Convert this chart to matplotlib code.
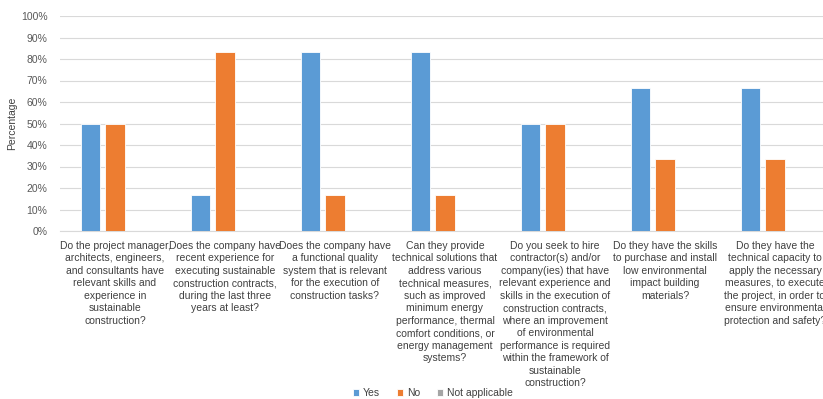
import numpy as np
import matplotlib
matplotlib.use("Agg")
import matplotlib.pyplot as plt

plt.rcParams['font.family'] = ['Liberation Sans', 'DejaVu Sans']

# [Data]______________________________________________________________________

questions = [
    "Do the project manager,\narchitects, engineers,\nand consultants have\nrelevant skills and\nexperience in\nsustainable\nconstruction?",
    "Does the company have\nrecent experience for\nexecuting sustainable\nconstruction contracts,\nduring the last three\nyears at least?",
    "Does the company have\na functional quality\nsystem that is relevant\nfor the execution of\nconstruction tasks?",
    "Can they provide\ntechnical solutions that\naddress various\ntechnical measures,\nsuch as improved\nminimum energy\nperformance, thermal\ncomfort conditions, or\nenergy management\nsystems?",
    "Do you seek to hire\ncontractor(s) and/or\ncompany(ies) that have\nrelevant experience and\nskills in the execution of\nconstruction contracts,\nwhere an improvement\nof environmental\nperformance is required\nwithin the framework of\nsustainable\nconstruction?",
    "Do they have the skills\nto purchase and install\nlow environmental\nimpact building\nmaterials?",
    "Do they have the\ntechnical capacity to\napply the necessary\nmeasures, to execute\nthe project, in order to\nensure environmental\nprotection and safety?",
]
yes = [50.0, 16.7, 83.3, 83.3, 50.0, 66.7, 66.7]
no = [50.0, 83.3, 16.7, 16.7, 50.0, 33.3, 33.3]
not_applicable = [0, 0, 0, 0, 0, 0, 0]

series = [("Yes", yes, "#5B9BD5"),
          ("No", no, "#ED7D31"),
          ("Not applicable", not_applicable, "#A5A5A5")]

# [Plot]______________________________________________________________________

fig = plt.figure(figsize=(8.23, 3.99), dpi=100)
# axes reaches past the right edge, like the cropped original
ax = fig.add_axes([60 / 823, 1 - 231 / 399, 770 / 823, 215 / 399])

x = np.arange(len(questions))
w = 0.18
step = 0.223
for i, (name, vals, col) in enumerate(series):
    ax.bar(x + (i - 1) * step, vals, width=w, color=col, edgecolor="white",
           linewidth=0.6, label=name, zorder=3)

ax.set_xlim(-0.5, len(questions) - 0.5)
ax.set_ylim(0, 100)
ax.set_yticks(np.arange(0, 101, 10))
ax.set_yticklabels([f"{v}%" for v in range(0, 101, 10)])
ax.yaxis.grid(True, color="#D9D9D9", linewidth=0.8, zorder=0)
ax.tick_params(axis="y", length=0, labelsize=7.5, colors="#595959", pad=9)

ax.set_xticks(x)
ax.set_xticklabels(questions, fontsize=7.5, color="#404040", linespacing=1.31)
ax.tick_params(axis="x", length=0, pad=7)

for s in ["top", "right", "left"]:
    ax.spines[s].set_visible(False)
ax.spines["bottom"].set_color("#D9D9D9")

ax.set_ylabel("Percentage", fontsize=7.5, color="#404040", labelpad=3)

fig.legend(loc="center", bbox_to_anchor=(433 / 823, 1 - 393 / 399), ncol=3,
           frameon=False, fontsize=7.5, handlelength=0.6, handleheight=0.6,
           handletextpad=0.4, columnspacing=1.6, labelcolor="#404040")

fig.savefig("out.png", dpi=100)
